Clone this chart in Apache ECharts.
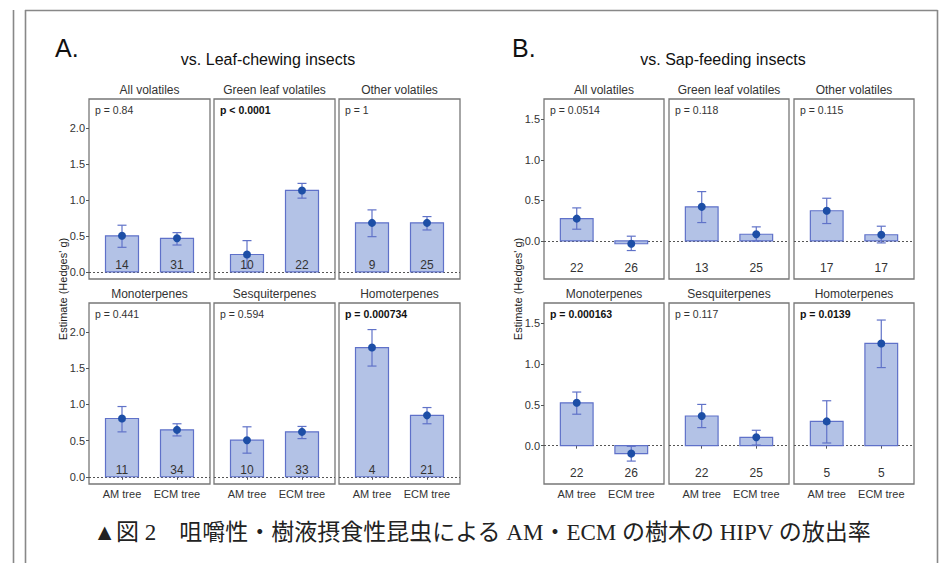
<!DOCTYPE html>
<html>
<head>
<meta charset="utf-8">
<script src="https://cdn.jsdelivr.net/npm/echarts@6/dist/echarts.min.js"></script>
<style>html,body{margin:0;padding:0;background:#fff;}#c{width:950px;height:563px;}</style>
</head>
<body>
<div id="c"></div>
<script>
// ---------- data ----------
const treeTypes = ['AM tree', 'ECM tree'];
const panelNames = ['All volatiles', 'Green leaf volatiles', 'Other volatiles', 'Monoterpenes', 'Sesquiterpenes', 'Homoterpenes'];

// A. vs. Leaf-chewing insects
const estA  = [[0.50, 0.465], [0.24, 1.13], [0.68, 0.68], [0.805, 0.648], [0.505, 0.62], [1.785, 0.848]];
const lowA  = [[0.34, 0.372], [0.05, 1.023], [0.488, 0.581], [0.62, 0.564], [0.326, 0.527], [1.529, 0.732]];
const highA = [[0.647, 0.544], [0.433, 1.228], [0.86, 0.767], [0.97, 0.732], [0.69, 0.695], [2.033, 0.956]];
const nA    = [[14, 31], [10, 22], [9, 25], [11, 34], [10, 33], [4, 21]];
const pA    = ['p = 0.84', 'p < 0.0001', 'p = 1', 'p = 0.441', 'p = 0.594', 'p = 0.000734'];
const sigA  = [false, true, false, false, false, true];
const ticksA = [0, 0.5, 1.0, 1.5, 2.0];

// B. vs. Sap-feeding insects
const estB  = [[0.275, -0.035], [0.42, 0.082], [0.372, 0.076], [0.526, -0.097], [0.364, 0.103], [0.298, 1.254]];
const lowB  = [[0.144, -0.119], [0.226, -0.002], [0.214, -0.025], [0.386, -0.189], [0.222, 0.008], [0.033, 0.958]];
const highB = [[0.407, 0.058], [0.608, 0.173], [0.526, 0.181], [0.658, -0.008], [0.506, 0.189], [0.551, 1.541]];
const nB    = [[22, 26], [13, 25], [17, 17], [22, 26], [22, 25], [5, 5]];
const pB    = ['p = 0.0514', 'p = 0.118', 'p = 0.115', 'p = 0.000163', 'p = 0.117', 'p = 0.0139'];
const sigB  = [false, false, false, true, false, true];
const ticksB = [0, 0.5, 1.0, 1.5];

// ---------- layout / style ----------
const FONT = "'Liberation Sans', Arial, sans-serif";
const groups = [
  { est: estA, low: lowA, high: highA, n: nA, p: pA, sig: sigA, ticks: ticksA,
    ymin: -0.1, ymax: 2.4, nY: 0.1, lefts: [89, 214, 339], w: 121,
    letter: 'A.', letterX: 55, title: 'vs. Leaf-chewing insects', titleX: 268, ylabX: 63 },
  { est: estB, low: lowB, high: highB, n: nB, p: pB, sig: sigB, ticks: ticksB,
    ymin: -0.47, ymax: 1.75, nY: -0.33, lefts: [544, 669, 794], w: 120,
    letter: 'B.', letterX: 512, title: 'vs. Sap-feeding insects', titleX: 723, ylabX: 518 }
];
const rows = [{ top: 99, h: 180 }, { top: 303, h: 181 }];

const BAR_FILL = '#b3c2e6';
const BAR_EDGE = '#5f71c9';
const ERR_COL = '#6072c8';
const PT_COL = '#1d4ea6';

function makeRender(nY) {
  return function (params, api) {
    const x = api.value(0), est = api.value(1), lo = api.value(2), hi = api.value(3), n = api.value(4);
    const a = api.coord([x - 0.3, 0]);
    const b = api.coord([x + 0.3, est]);
    const c = api.coord([x, est]);
    const l = api.coord([x, lo]);
    const h = api.coord([x, hi]);
    const t = api.coord([x, nY]);
    const cap = 4.5;
    return {
      type: 'group',
      children: [
        { type: 'rect', shape: { x: Math.min(a[0], b[0]), y: Math.min(a[1], b[1]), width: Math.abs(b[0] - a[0]), height: Math.max(Math.abs(b[1] - a[1]), 0.5) },
          style: { fill: BAR_FILL, stroke: BAR_EDGE, lineWidth: 1.2 } },
        { type: 'line', shape: { x1: l[0], y1: l[1], x2: h[0], y2: h[1] }, style: { stroke: ERR_COL, lineWidth: 1.2 } },
        { type: 'line', shape: { x1: h[0] - cap, y1: h[1], x2: h[0] + cap, y2: h[1] }, style: { stroke: ERR_COL, lineWidth: 1.2 } },
        { type: 'line', shape: { x1: l[0] - cap, y1: l[1], x2: l[0] + cap, y2: l[1] }, style: { stroke: ERR_COL, lineWidth: 1.2 } },
        { type: 'circle', shape: { cx: c[0], cy: c[1], r: 4 }, style: { fill: PT_COL } },
        { type: 'text', x: t[0], y: t[1], style: { text: String(n), fill: '#333', font: '12px ' + FONT, align: 'center', verticalAlign: 'middle' } }
      ]
    };
  };
}

const grid = [], xAxis = [], yAxis = [], series = [], graphic = [];

// outer frame lines
graphic.push({ type: 'line', shape: { x1: 13.5, y1: 10, x2: 13.5, y2: 563 }, style: { stroke: '#888', lineWidth: 1.6 } });
graphic.push({ type: 'line', shape: { x1: 25.5, y1: 10, x2: 25.5, y2: 563 }, style: { stroke: '#888', lineWidth: 1.6 } });
graphic.push({ type: 'line', shape: { x1: 25, y1: 10.5, x2: 937.5, y2: 10.5 }, style: { stroke: '#888', lineWidth: 1.6 } });
graphic.push({ type: 'line', shape: { x1: 937.5, y1: 10, x2: 937.5, y2: 563 }, style: { stroke: '#888', lineWidth: 1.6 } });

let gi = 0;
groups.forEach(function (g) {
  graphic.push({ type: 'text', x: g.letterX, y: 48, style: { text: g.letter, fill: '#111', font: '25px ' + FONT, align: 'left', verticalAlign: 'middle' } });
  graphic.push({ type: 'text', x: g.titleX, y: 59, style: { text: g.title, fill: '#111', font: '16px ' + FONT, align: 'center', verticalAlign: 'middle' } });
  graphic.push({ type: 'text', x: g.ylabX, y: 289, rotation: Math.PI / 2, style: { text: "Estimate (Hedges' g)", fill: '#222', font: '11px ' + FONT, align: 'center', verticalAlign: 'middle' } });
  for (let k = 0; k < 6; k++) {
    const r = Math.floor(k / 3), col = k % 3;
    const left = g.lefts[col], top = rows[r].top, h = rows[r].h;
    grid.push({ left: left, top: top, width: g.w, height: h, show: true, borderColor: '#777', borderWidth: 1.3, backgroundColor: '#fff', containLabel: false });
    const bottomRow = r === 1, leftCol = col === 0;
    xAxis.push({
      type: 'value', gridIndex: gi, min: 0.4, max: 2.6,
      axisLine: { show: false }, splitLine: { show: false },
      axisTick: { show: bottomRow, length: 3, customValues: [1, 2], lineStyle: { color: '#555' } },
      axisLabel: { show: bottomRow, customValues: [1, 2], margin: 4, fontSize: 11, color: '#333', fontFamily: FONT,
        formatter: function (v) { return treeTypes[Math.round(v) - 1] || ''; } }
    });
    yAxis.push({
      type: 'value', gridIndex: gi, min: g.ymin, max: g.ymax,
      axisLine: { show: false }, splitLine: { show: false },
      axisTick: { show: leftCol, length: 3, customValues: g.ticks, lineStyle: { color: '#555' } },
      axisLabel: { show: leftCol, customValues: g.ticks, margin: 4, fontSize: 11, color: '#333', fontFamily: FONT,
        formatter: function (v) { return v.toFixed(1); } }
    });
    const data = [1, 2].map(function (x, j) { return [x, g.est[k][j], g.low[k][j], g.high[k][j], g.n[k][j]]; });
    series.push({
      type: 'custom', xAxisIndex: gi, yAxisIndex: gi, renderItem: makeRender(g.nY), data: data, silent: true, clip: false,
      markLine: { silent: true, symbol: ['none', 'none'], label: { show: false }, z: 1,
        lineStyle: { type: [2, 2], color: '#555', width: 1 }, data: [{ yAxis: 0 }] }
    });
    // strip title
    graphic.push({ type: 'text', x: left + g.w / 2, y: top - 9, style: { text: panelNames[k], fill: '#333', font: '12px ' + FONT, align: 'center', verticalAlign: 'middle' } });
    // p value
    graphic.push({ type: 'text', x: left + 6, y: top + 11, style: { text: g.p[k], fill: g.sig[k] ? '#111' : '#333', font: (g.sig[k] ? 'bold ' : '') + '10.5px ' + FONT, align: 'left', verticalAlign: 'middle' } });
    gi++;
  }
});

// caption
graphic.push({ type: 'text', x: 482, y: 532, style: { text: '▲図 2　咀嚼性・樹液摂食性昆虫による AM・ECM の樹木の HIPV の放出率', fill: '#222', font: "23px 'Liberation Serif', 'Noto Sans CJK JP', serif", align: 'center', verticalAlign: 'middle' } });

const chart = echarts.init(document.getElementById('c'), null, { renderer: 'svg' });
chart.setOption({ animation: false, backgroundColor: '#fff', grid: grid, xAxis: xAxis, yAxis: yAxis, series: series, graphic: graphic });
</script>
</body>
</html>
